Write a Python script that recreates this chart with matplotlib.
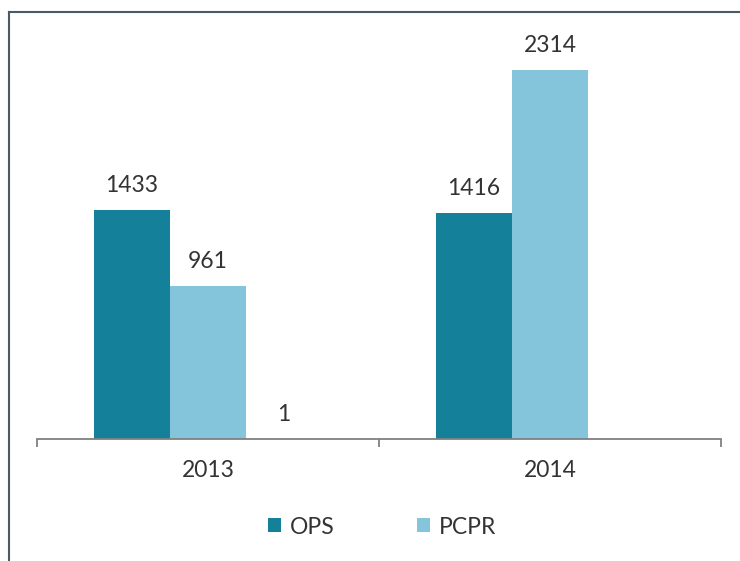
import numpy as np
import matplotlib.pyplot as plt
from matplotlib.lines import Line2D

plt.rcParams['font.family'] = ['Lato', 'DejaVu Sans']

years = ['2013', '2014']
ops = [1433, 1416]
pcpr = [961, 2314]
other = [1, None]  # third series, only shown in 2013, not in the legend

ops_color = '#15809a'
pcpr_color = '#84c5dc'
text_color = '#333333'

W, H = 740, 561
fig = plt.figure(figsize=(W / 100, H / 100), dpi=100)
ax = fig.add_axes([37 / W, (H - 439) / H, (721 - 37) / W, (439 - 40) / H])

x = np.arange(len(years))
bw = 0.222

b1 = ax.bar(x - bw, ops, bw, color=ops_color, label='OPS')
b2 = ax.bar(x, pcpr, bw, color=pcpr_color, label='PCPR')
oth_x = [xi + bw for xi, v in zip(x, other) if v is not None]
oth_v = [v for v in other if v is not None]
b3 = ax.bar(oth_x, oth_v, bw, color='#a5a5a5')

for bars in (b1, b2, b3):
    ax.bar_label(bars, padding=10, fontsize=16.5, color=text_color)

ax.set_xlim(-0.5, 1.5)
ax.set_ylim(0, 2500)
ax.set_yticks([])
for s in ['top', 'right', 'left']:
    ax.spines[s].set_visible(False)
ax.spines['bottom'].set_color('#808080')
ax.spines['bottom'].set_linewidth(1.3)

ax.set_xticks([-0.5, 0.5, 1.5])
ax.set_xticklabels([])
ax.tick_params(axis='x', direction='out', length=6, width=1.3, color='#808080')
for xi, yr in zip(x, years):
    ax.text(xi, -0.08, yr, transform=ax.get_xaxis_transform(),
            ha='center', va='center', fontsize=16.5, color=text_color)

leg = fig.legend(handles=[b1, b2], loc='center', bbox_to_anchor=(382 / W, 1 - 527 / H),
                 ncol=2, frameon=False, fontsize=16.5, handlelength=0.55, handleheight=0.55,
                 handletextpad=0.4, columnspacing=3.6, labelcolor=text_color)

# outer frame of the scanned chart
fig.add_artist(Line2D([9 / W, 9 / W], [0, 1 - 12 / H], transform=fig.transFigure,
                      color='#4a5a66', lw=1.5))
fig.add_artist(Line2D([9 / W, 1], [1 - 12 / H, 1 - 12 / H], transform=fig.transFigure,
                      color='#4a5a66', lw=1.5))

fig.savefig('out.png', dpi=100)
